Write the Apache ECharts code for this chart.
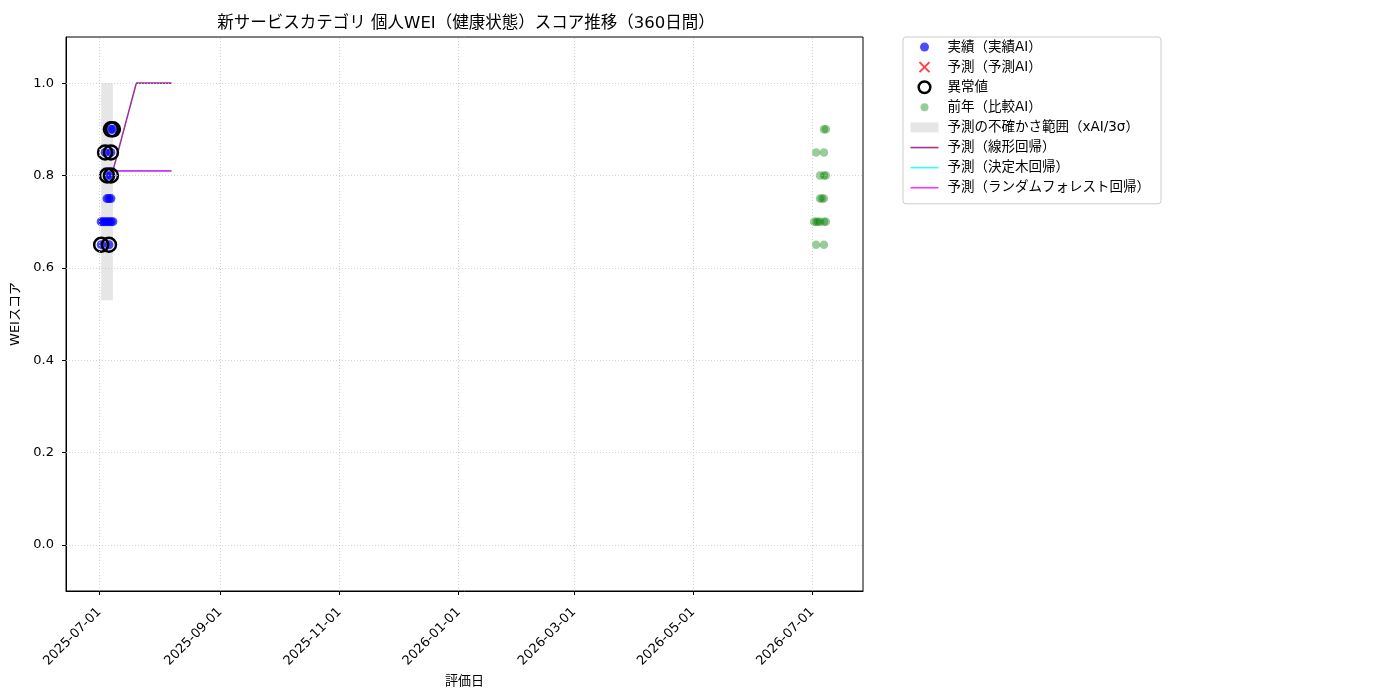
<!doctype html>
<html lang="ja">
<head>
<meta charset="utf-8">
<title>個人WEI スコア推移</title>
<script src="https://cdn.jsdelivr.net/npm/echarts@6/dist/echarts.min.js"></script>
<style>
  html, body { margin: 0; padding: 0; background: #fff; }
</style>
</head>
<body>
<div id="main" style="width:1400px; height:700px;"></div>
<script type="text/javascript">
// 実績（実績AI）
var actualDates = ['2025-07-07', '2025-07-08', '2025-07-04', '2025-07-07', '2025-07-05', '2025-07-07',
  '2025-07-05', '2025-07-06', '2025-07-07',
  '2025-07-02', '2025-07-03', '2025-07-04', '2025-07-05', '2025-07-06', '2025-07-07', '2025-07-08',
  '2025-07-02', '2025-07-06'];
var actualValues = [0.90, 0.90, 0.85, 0.85, 0.80, 0.80,
  0.75, 0.75, 0.75,
  0.70, 0.70, 0.70, 0.70, 0.70, 0.70, 0.70,
  0.65, 0.65];

// 異常値
var anomalyDates = ['2025-07-07', '2025-07-08', '2025-07-04', '2025-07-07', '2025-07-05', '2025-07-07', '2025-07-02', '2025-07-06'];
var anomalyValues = [0.90, 0.90, 0.85, 0.85, 0.80, 0.80, 0.65, 0.65];

// 前年（比較AI）
var prevDates = ['2026-07-07', '2026-07-08', '2026-07-03', '2026-07-07', '2026-07-05', '2026-07-07', '2026-07-08',
  '2026-07-05', '2026-07-06', '2026-07-07',
  '2026-07-02', '2026-07-03', '2026-07-04', '2026-07-05', '2026-07-07', '2026-07-08',
  '2026-07-03', '2026-07-07'];
var prevValues = [0.90, 0.90, 0.85, 0.85, 0.80, 0.80, 0.80,
  0.75, 0.75, 0.75,
  0.70, 0.70, 0.70, 0.70, 0.70, 0.70,
  0.65, 0.65];

// 予測の不確かさ範囲
var bandDates = ['2025-07-02', '2025-07-08'];
var bandRange = [0.53, 1.0];

// 予測ライン
var linearDates = ['2025-07-08', '2025-07-20', '2025-08-07'];
var linearValues = [0.81, 1.0, 1.0];
var treeDates = ['2025-07-08', '2025-08-07'];
var treeValues = [0.81, 0.81];
var forestDates = ['2025-07-08', '2025-08-07'];
var forestValues = [0.81, 0.81];

// 軸
var xRange = ['2025-06-14', '2026-07-27'];
var xTicks = ['2025-07-01', '2025-09-01', '2025-11-01', '2026-01-01', '2026-03-01', '2026-05-01', '2026-07-01'];
var yTicks = [0.0, 0.2, 0.4, 0.6, 0.8, 1.0];

function t(d) { return echarts.time.parse(d).getTime(); }
function pairs(xs, ys) {
  return xs.map(function (x, i) { return [t(x), ys[i]]; });
}

var FONT = '"DejaVu Sans", "Noto Sans CJK JP", sans-serif';
var xTickTimes = xTicks.map(t);

var gridMarks = yTicks.map(function (v) { return { yAxis: v }; })
  .concat(xTickTimes.map(function (v) { return { xAxis: v }; }));

var ICON_PAD = 'M-7,-7 M7,7 ';
function circleIcon(r) {
  return 'path://' + ICON_PAD + 'M' + (-r) + ',0 A' + r + ',' + r + ' 0 1 1 ' + r + ',0 A' + r + ',' + r + ' 0 1 1 ' + (-r) + ',0 Z';
}
var LINE_ICON = 'path://M0,-7 M28,7 M0,0 L28,0';
function lineLegend(name, color) {
  return {
    name: name, icon: LINE_ICON,
    itemStyle: { color: 'none', borderColor: color, borderWidth: 1.6, opacity: 1 },
    lineStyle: { color: color, width: 1.6 }
  };
}

var C_LINEAR = 'rgba(128,0,128,0.8)';
var C_TREE = 'rgba(0,255,255,0.8)';
var C_FOREST = 'rgba(255,0,255,0.8)';

var chart = echarts.init(document.getElementById('main'));
var option = {
  animation: false,
  textStyle: { fontFamily: FONT },
  title: {
    text: '新サービスカテゴリ 個人WEI（健康状態）スコア推移（360日間）',
    left: 461, top: 10, textAlign: 'center',
    textStyle: { fontFamily: FONT, fontSize: 16.5, fontWeight: 'normal', color: '#000' }
  },
  grid: {
    left: 66, top: 37, width: 797, height: 554,
    show: true, borderColor: '#000', borderWidth: 1, backgroundColor: 'transparent'
  },
  legend: {
    orient: 'vertical', left: 903, top: 37,
    padding: [0, 11, 6, 5], itemGap: 0, itemWidth: 28, itemHeight: 14,
    borderColor: '#cccccc', borderWidth: 1, borderRadius: 3,
    textStyle: { fontFamily: FONT, fontSize: 13.5, color: '#000', lineHeight: 20.1, padding: [0, 0, 0, 4] },
    data: [
      { name: '実績（実績AI）', icon: circleIcon(4.5), itemStyle: { color: 'rgba(0,0,255,0.7)', borderWidth: 0, opacity: 1 } },
      { name: '予測（予測AI）', icon: 'path://' + ICON_PAD + 'M-5,-5 L5,5 M5,-5 L-5,5',
        itemStyle: { color: 'none', borderColor: 'rgba(255,0,0,0.75)', borderWidth: 2, opacity: 1 } },
      { name: '異常値', icon: circleIcon(5.8), itemStyle: { color: 'none', borderColor: '#000', borderWidth: 2.5, opacity: 1 } },
      { name: '前年（比較AI）', icon: circleIcon(4), itemStyle: { color: 'rgba(0,128,0,0.4)', borderWidth: 0, opacity: 1 } },
      { name: '予測の不確かさ範囲（xAI/3σ）', icon: 'path://M0,-7 M28,7 M0,-5 L28,-5 L28,5 L0,5 Z',
        itemStyle: { color: 'rgba(128,128,128,0.2)', borderWidth: 0, opacity: 1 } },
      lineLegend('予測（線形回帰）', C_LINEAR),
      lineLegend('予測（決定木回帰）', C_TREE),
      lineLegend('予測（ランダムフォレスト回帰）', C_FOREST)
    ]
  },
  xAxis: {
    type: 'value',
    min: t(xRange[0]), max: t(xRange[1]),
    name: '評価日', nameLocation: 'middle', nameGap: 76,
    nameTextStyle: { fontFamily: FONT, fontSize: 13, color: '#000' },
    axisLine: { show: true, onZero: false, lineStyle: { color: '#000', width: 1 } },
    axisTick: { show: true, length: 4, lineStyle: { color: '#000' }, customValues: xTickTimes },
    axisLabel: {
      customValues: xTickTimes, rotate: 45, margin: 19,
      fontFamily: FONT, fontSize: 13, color: '#000',
      formatter: function (v) { return echarts.time.format(v, '{yyyy}-{MM}-{dd}', false); }
    },
    splitLine: { show: false }
  },
  yAxis: {
    type: 'value',
    min: -0.1, max: 1.1,
    name: 'WEIスコア', nameLocation: 'middle', nameGap: 39, nameRotate: 90,
    nameTextStyle: { fontFamily: FONT, fontSize: 13, color: '#000' },
    axisLine: { show: true, lineStyle: { color: '#000', width: 1 } },
    axisTick: { show: true, length: 4, lineStyle: { color: '#000' }, customValues: yTicks },
    axisLabel: {
      customValues: yTicks, margin: 12, fontFamily: FONT, fontSize: 13, color: '#000',
      formatter: function (v) { return v.toFixed(1); }
    },
    splitLine: { show: false }
  },
  series: [
    {
      name: '予測の不確かさ範囲（xAI/3σ）',
      type: 'scatter', data: [], z: 1,
      itemStyle: { color: 'rgba(128,128,128,0.2)', opacity: 1 },
      markLine: {
        silent: true, symbol: 'none', label: { show: false },
        lineStyle: { color: '#c8c8c8', type: [1, 2], width: 0.8 },
        data: gridMarks
      },
      markArea: {
        silent: true,
        itemStyle: { color: 'rgba(128,128,128,0.2)', opacity: 1 },
        data: [[
          { xAxis: t(bandDates[0]), yAxis: bandRange[0] },
          { xAxis: t(bandDates[1]), yAxis: bandRange[1] }
        ]]
      }
    },
    {
      name: '予測（線形回帰）', type: 'line', z: 2,
      data: pairs(linearDates, linearValues),
      symbol: 'none', showSymbol: false,
      lineStyle: { color: C_LINEAR, width: 1.6 },
      itemStyle: { color: C_LINEAR }
    },
    {
      name: '予測（決定木回帰）', type: 'line', z: 2,
      data: pairs(treeDates, treeValues),
      symbol: 'none', showSymbol: false,
      lineStyle: { color: C_TREE, width: 1.6 },
      itemStyle: { color: C_TREE }
    },
    {
      name: '予測（ランダムフォレスト回帰）', type: 'line', z: 2,
      data: pairs(forestDates, forestValues),
      symbol: 'none', showSymbol: false,
      lineStyle: { color: C_FOREST, width: 1.6 },
      itemStyle: { color: C_FOREST }
    },
    {
      name: '実績（実績AI）', type: 'scatter', z: 3,
      data: pairs(actualDates, actualValues),
      symbol: 'circle', symbolSize: 9,
      itemStyle: { color: 'rgba(0,0,255,0.7)', opacity: 1 }
    },
    {
      name: '予測（予測AI）', type: 'scatter', z: 3, data: [],
      itemStyle: { color: 'rgba(255,0,0,0.75)', opacity: 1 }
    },
    {
      name: '異常値', type: 'scatter', z: 4,
      data: pairs(anomalyDates, anomalyValues),
      symbol: 'circle', symbolSize: 14,
      itemStyle: { color: 'none', borderColor: '#000', borderWidth: 2.5, opacity: 1 }
    },
    {
      name: '前年（比較AI）', type: 'scatter', z: 3,
      data: pairs(prevDates, prevValues),
      symbol: 'circle', symbolSize: 8.5,
      itemStyle: { color: 'rgba(0,128,0,0.4)', opacity: 1 }
    }
  ]
};
chart.setOption(option);
</script>
</body>
</html>
